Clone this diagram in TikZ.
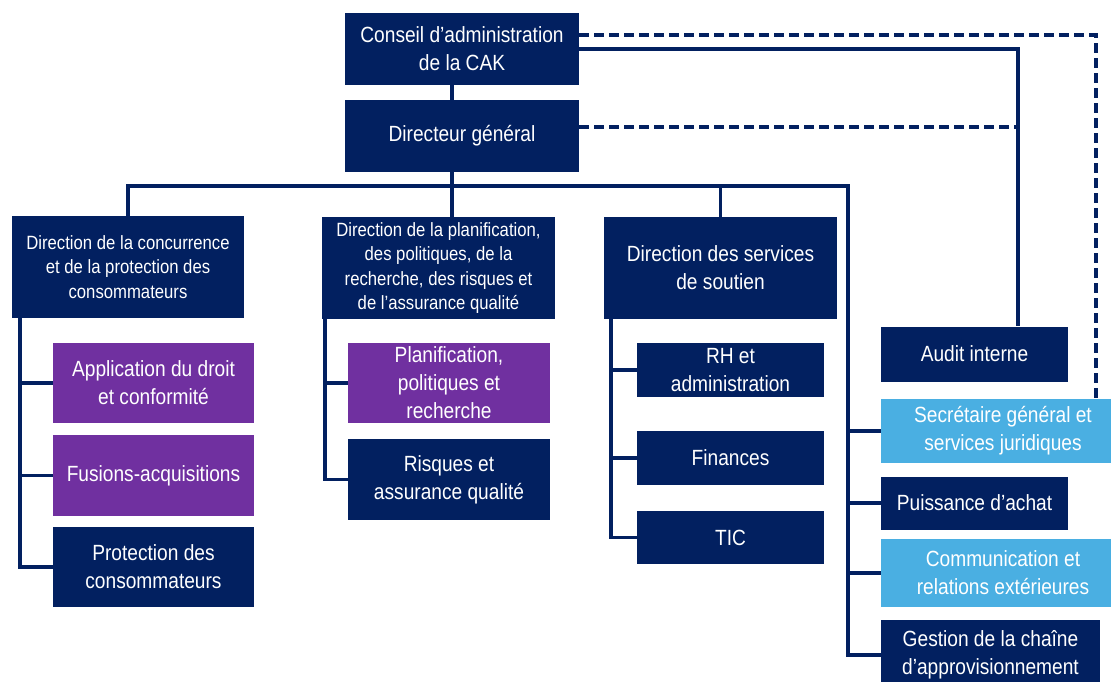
\documentclass[tikz,border=0pt]{standalone}
\usepackage{fontspec}
\setmainfont{Liberation Sans}[FakeStretch=0.87]

\definecolor{cakNavy}{RGB}{2,32,96}
\definecolor{cakPurple}{RGB}{112,48,160}
\definecolor{cakSky}{RGB}{74,175,226}

\newcommand{\bigtxt}{\fontsize{11}{14}\selectfont}
\newcommand{\smalltxt}{\fontsize{9.6}{12.2}\selectfont}

\begin{document}
\begin{tikzpicture}[x=0.5pt, y=-0.5pt,
    box/.style={fill=cakNavy, text=white, align=center, inner sep=0pt, font=\bigtxt},
    unit/.style={box, fill=cakPurple},
    staff/.style={box, fill=cakSky},
    wh/.style 2 args={minimum width=#1*0.5pt, minimum height=#2*0.5pt},
    link/.style={cakNavy, line width=1.75pt},
    dotline/.style={link, dash pattern=on 5pt off 2.5pt}]

    \useasboundingbox (0,0) rectangle (1111,681);

    % Board and director general
    \node[box, wh={234}{72}] (conseil) at (462,49) {Conseil d’administration\\de la CAK};
    \node[box, wh={234}{72}] (dg) at (462,136) {Directeur général};

    % Directions
    \node[box, wh={232}{102}, font=\smalltxt] (dc) at (128,267)
        {Direction de la concurrence\\et de la protection des\\consommateurs};
    \node[box, wh={233}{102}, font=\smalltxt] (dp) at (438.5,268)
        {Direction de la planification,\\des politiques, de la\\recherche, des risques et\\de l’assurance qualité};
    \node[box, wh={233}{102}] (ds) at (720.5,268) {Direction des services\\de soutien};

    % Units under competition
    \node[unit, wh={201}{80}] (app) at (153.5,383) {Application du droit\\et conformité};
    \node[unit, wh={201}{81}] (fus) at (153.5,475.5) {Fusions-acquisitions};
    \node[box, wh={201}{80}] (prot) at (153.5,567) {Protection des\\consommateurs};

    % Units under planning
    \node[unit, wh={202}{80}] (pl) at (449,383) {Planification,\\politiques et\\recherche};
    \node[box, wh={202}{81}] (rq) at (449,479.5) {Risques et\\assurance qualité};

    % Units under support services
    \node[box, wh={187}{54}] (rh) at (730.5,370) {RH et\\administration};
    \node[box, wh={187}{54}] (fin) at (730.5,458) {Finances};
    \node[box, wh={187}{53}] (tic) at (730.5,537.5) {TIC};

    % Staff units
    \node[box, wh={187}{55}] (audit) at (974.5,354) {Audit interne};
    \node[staff, wh={244}{64}] (sg) at (1003,431) {Secrétaire général et\\services juridiques};
    \node[box, wh={187}{53}] (pa) at (974.5,503) {Puissance d’achat};
    \node[staff, wh={244}{68}] (com) at (1003,573) {Communication et\\relations extérieures};
    \node[box, wh={219}{70}] (gc) at (990.5,655) {Gestion de la chaîne\\d’approvisionnement};

    % Helper coordinates for the lines
    \coordinate (spine) at (452,0);
    \coordinate (bus) at (0,186);
    \coordinate (stx) at (848,0);
    \coordinate (lcol) at (20,0);
    \coordinate (pcol) at (325,0);
    \coordinate (scol) at (611,0);
    \coordinate (auditx) at (1018,0);
    \coordinate (sgx) at (1096,0);
    \coordinate (dashtop) at (0,35);
    \coordinate (dgdash) at (0,127);

    % Main hierarchy
    \draw[link] (conseil.south -| spine) -- (dg.north -| spine);
    \draw[link] (dg.south -| spine) -- (dp.north -| spine);
    \draw[link] (dc.north) -- (dc.north |- bus) -- (bus -| stx) -- (stx |- gc.west) -- (gc.west);
    \draw[link] (ds.north) -- (ds.north |- bus);

    % Staff branches
    \foreach \n in {sg,pa,com}
        \draw[link] (stx |- \n.west) -- (\n.west);

    % Column branches
    \draw[link] (lcol |- dc.south) |- (prot.west);
    \foreach \n in {app,fus}
        \draw[link] (lcol |- \n.west) -- (\n.west);
    \draw[link] (pcol |- dp.south) |- (rq.west);
    \draw[link] (pcol |- pl.west) -- (pl.west);
    \draw[link] (scol |- ds.south) |- (tic.west);
    \foreach \n in {rh,fin}
        \draw[link] (scol |- \n.west) -- (\n.west);

    % Reporting lines to audit and secretariat
    \draw[link] (conseil.east) -| (auditx |- audit.north);
    \draw[dotline] (dg.east |- dgdash) -- (auditx |- dgdash);
    \draw[dotline] (conseil.east |- dashtop) -| (sgx |- sg.north);
\end{tikzpicture}
\end{document}
